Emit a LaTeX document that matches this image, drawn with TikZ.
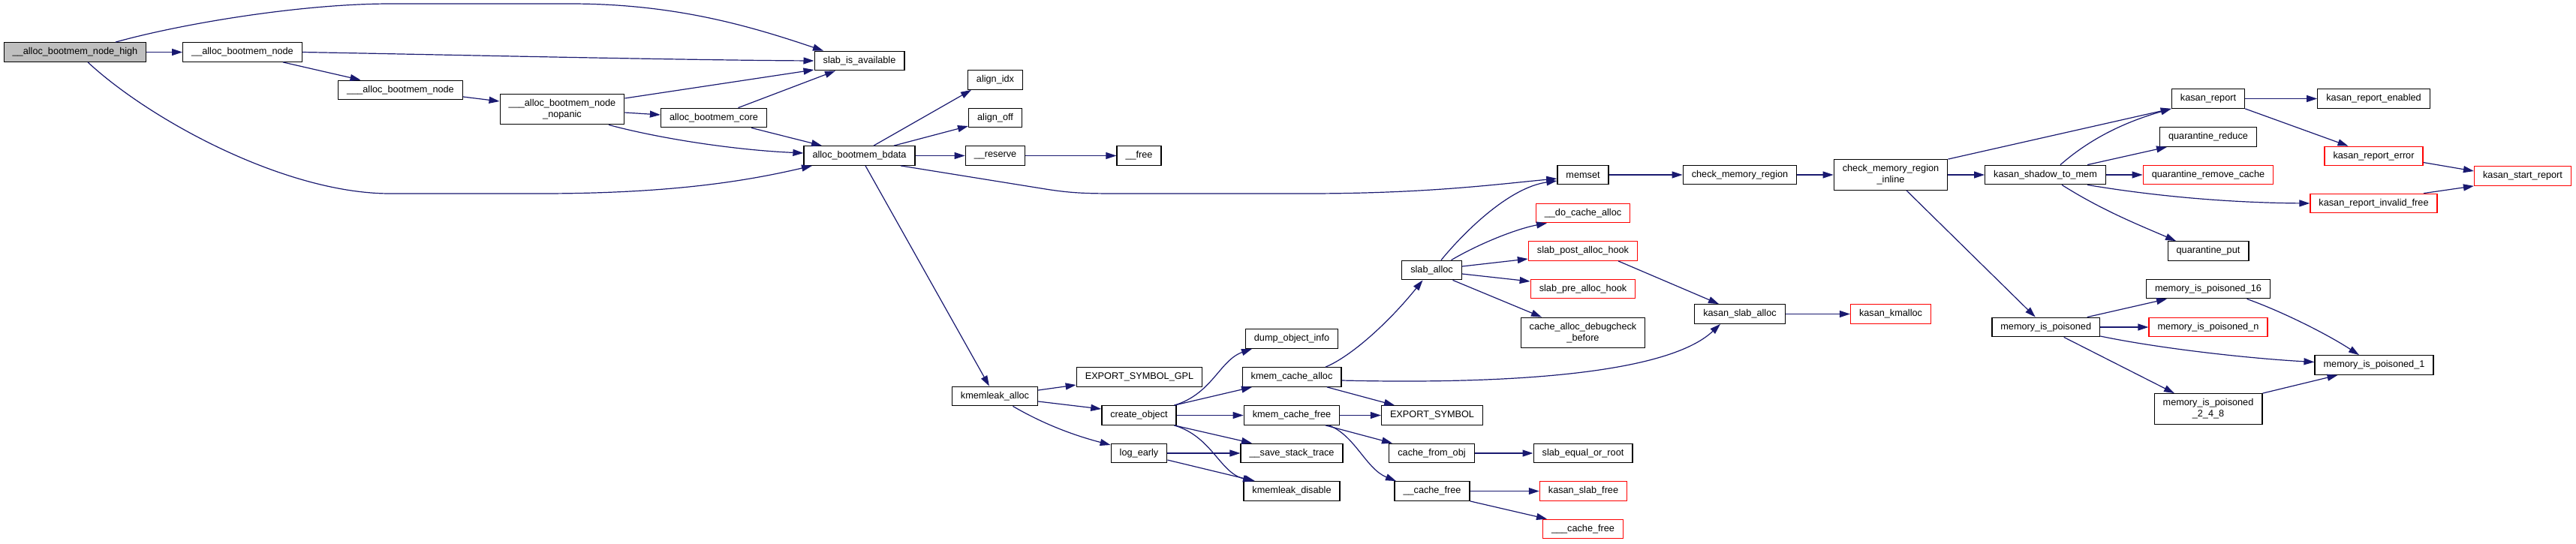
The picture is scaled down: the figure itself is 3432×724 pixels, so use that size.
\documentclass[tikz,border=0pt]{standalone}
\usepackage{fontspec}
\setmainfont{Liberation Sans}
\usetikzlibrary{arrows.meta}
\definecolor{edgeblue}{HTML}{191970}
\definecolor{rootgray}{HTML}{BFBFBF}

\begin{document}
\begin{tikzpicture}[x=1pt, y=-1pt,
    fn/.style={draw=black, line width=1.3pt, fill=white, minimum height=25.5pt,
      inner xsep=11.5pt, inner ysep=2pt, font=\fontsize{12.7}{15}\selectfont},
    root/.style={fn, fill=rootgray},
    trunc/.style={fn, draw=red},
    twoline/.style={align=center, minimum height=40.5pt},
    call/.style={draw=edgeblue, line width=1.2pt, -{Triangle[length=14pt,width=9pt]}}]
        \useasboundingbox (0,0) rectangle (3432,724);

        % Bootmem side
        \node[root] (high) at (100,69.5) {\_\_alloc\_bootmem\_node\_high};
        \node[fn] (n1) at (323,69.5) {\_\_alloc\_bootmem\_node};
        \node[fn] (n2) at (533.5,120) {\_\_\_alloc\_bootmem\_node};
        \node[fn, twoline] (nopanic) at (749,145.5) {\_\_\_alloc\_bootmem\_node\\\_nopanic};
        \node[fn] (core) at (951,157) {alloc\_bootmem\_core};
        \node[fn] (slab) at (1145,81) {slab\_is\_available};
        \node[fn] (bdata) at (1145,207.5) {alloc\_bootmem\_bdata};
        \node[fn] (alignidx) at (1326,106.5) {align\_idx};
        \node[fn] (alignoff) at (1326,157) {align\_off};
        \node[fn] (reserve) at (1326,207.5) {\_\_reserve};
        \node[fn] (kalloc) at (1325.5,528) {kmemleak\_alloc};
        \node[fn] (free) at (1517.5,207.5) {\_\_free};

        % Kmemleak side
        \node[fn] (esgpl) at (1518,502.5) {EXPORT\_SYMBOL\_GPL};
        \node[fn] (create) at (1517.5,553.5) {create\_object};
        \node[fn] (logearly) at (1517.5,604) {log\_early};
        \node[fn] (dump) at (1721,451.5) {dump\_object\_info};
        \node[fn] (kca) at (1721,502.5) {kmem\_cache\_alloc};
        \node[fn] (kcf) at (1721,553.5) {kmem\_cache\_free};
        \node[fn] (sst) at (1721,604) {\_\_save\_stack\_trace};
        \node[fn] (kdis) at (1721,654.5) {kmemleak\_disable};
        \node[fn] (slaballoc) at (1907.5,360) {slab\_alloc};
        \node[fn] (es) at (1908,553.5) {EXPORT\_SYMBOL};
        \node[fn] (cfo) at (1907.5,604) {cache\_from\_obj};
        \node[fn] (cfree) at (1908,654.5) {\_\_cache\_free};
        \node[fn] (memset) at (2109,233) {memset};
        \node[trunc] (docache) at (2109,284) {\_\_do\_cache\_alloc};
        \node[trunc] (post) at (2109,334.5) {slab\_post\_alloc\_hook};
        \node[trunc] (pre) at (2109,385) {slab\_pre\_alloc\_hook};
        \node[fn, twoline] (dbg) at (2109,443.5) {cache\_alloc\_debugcheck\\\_before};
        \node[fn] (seor) at (2109,604) {slab\_equal\_or\_root};
        \node[trunc] (ksfree) at (2109.5,654.5) {kasan\_slab\_free};
        \node[trunc] (ccfree) at (2109,705) {\_\_\_cache\_free};

        % Kasan side
        \node[fn] (cmr) at (2318,233) {check\_memory\_region};
        \node[fn] (ksalloc) at (2318,418.5) {kasan\_slab\_alloc};
        \node[fn, twoline] (cmri) at (2519,233) {check\_memory\_region\\\_inline};
        \node[trunc] (kmalloc) at (2519,418.5) {kasan\_kmalloc};
        \node[fn] (stm) at (2725,233) {kasan\_shadow\_to\_mem};
        \node[fn] (mip) at (2725.7,436) {memory\_is\_poisoned};
        \node[fn] (kreport) at (2942,131.5) {kasan\_report};
        \node[fn] (qreduce) at (2942,182.5) {quarantine\_reduce};
        \node[trunc] (qrc) at (2942,233) {quarantine\_remove\_cache};
        \node[fn] (qput) at (2942,334.5) {quarantine\_put};
        \node[fn] (mip16) at (2942,385) {memory\_is\_poisoned\_16};
        \node[trunc] (mipn) at (2942,436) {memory\_is\_poisoned\_n};
        \node[fn, twoline] (mip248) at (2942,545) {memory\_is\_poisoned\\\_2\_4\_8};
        \node[fn] (kre) at (3162.5,131.5) {kasan\_report\_enabled};
        \node[trunc] (krerr) at (3162.5,208) {kasan\_report\_error};
        \node[trunc] (kinv) at (3162.5,271) {kasan\_report\_invalid\_free};
        \node[fn] (mip1) at (3163,486.5) {memory\_is\_poisoned\_1};
        \node[trunc] (kstart) at (3361,234.5) {kasan\_start\_report};

        % Calls from the bootmem functions
        \draw[call] (high) -- (n1);
        \draw[call] ([xshift=54pt]high.north) .. controls (240,32) and (400,5) .. (520,5) -- (760,5)
            .. controls (900,5) and (1000,35) .. ([xshift=-48pt]slab.north);
        \draw[call] ([xshift=17pt]high.south) .. controls (200,160) and (380,258) .. (520,258) -- (720,258)
            .. controls (900,258) and (1000,240) .. ([xshift=-63pt]bdata.south);
        \draw[call] (n1.east) .. controls (600,73) and (900,80) .. (slab.west);
        \draw[call] ([xshift=54pt]n1.south) -- ([xshift=-53pt]n2.north);
        \draw[call] ([yshift=-9pt]n2.east) -- ([yshift=10.5pt]nopanic.west);
        \draw[call] ([yshift=14.5pt]nopanic.east) -- ([yshift=-12pt]slab.west);
        \draw[call] ([yshift=-4.5pt]nopanic.east) -- ([yshift=4pt]core.west);
        \draw[call] ([xshift=62pt]nopanic.south) .. controls (880,185) and (980,200) .. ([yshift=3.5pt]bdata.west);
        \draw[call] ([xshift=32.5pt]core.north) -- ([xshift=-32pt]slab.south);
        \draw[call] ([xshift=50pt]core.south) -- ([xshift=-50pt]bdata.north);
        \draw[call] ([xshift=19pt]bdata.north) -- ([xshift=-32pt]alignidx.south);
        \draw[call] ([xshift=46pt]bdata.north) -- ([yshift=-11pt]alignoff.west);
        \draw[call] (bdata) -- (reserve);
        \draw[call] ([xshift=55pt]bdata.south) -- (1390,251.5) .. controls (1430,258) and (1450,258) .. (1500,258)
            -- (1740,258) .. controls (1900,258) and (1990,246) .. ([yshift=-5pt]memset.west);
        \draw[call] ([xshift=8pt]bdata.south) -- ([xshift=-7.5pt]kalloc.north);
        \draw[call] (reserve) -- (free);

        % Calls from kmemleak
        \draw[call] ([yshift=8pt]kalloc.east) -- ([yshift=-10.5pt]esgpl.west);
        \draw[call] ([yshift=-7pt]kalloc.east) -- ([yshift=8.5pt]create.west);
        \draw[call] ([xshift=24pt]kalloc.south) .. controls (1390,565) and (1430,580) .. ([yshift=11pt]logearly.west);
        \draw[call] ([xshift=47pt]create.north) .. controls (1615,525) and (1625,480) .. ([xshift=-53pt]dump.south);
        \draw[call] ([xshift=47pt]create.north) -- ([xshift=-53pt]kca.south);
        \draw[call] (create) -- (kcf);
        \draw[call] ([xshift=47pt]create.south) -- ([xshift=-53pt]sst.north);
        \draw[call] ([xshift=47pt]create.south) .. controls (1615,582) and (1625,630) .. ([xshift=-51pt]kdis.north);
        \draw[call] (logearly) -- (sst);
        \draw[call] ([yshift=-9pt]logearly.east) -- ([xshift=-49pt]kdis.north);
        \draw[call] ([xshift=45pt]kca.north) .. controls (1800,475) and (1850,430) .. ([xshift=-12pt]slaballoc.south);
        \draw[call] ([xshift=47pt]kca.south) -- ([xshift=-50pt]es.north);
        \draw[call] ([yshift=-4.5pt]kca.east) .. controls (2000,512) and (2220,500) .. ([xshift=-26pt]ksalloc.south);
        \draw[call] (kcf) -- (es);
        \draw[call] ([xshift=45pt]kcf.south) -- ([xshift=-52.5pt]cfo.north);
        \draw[call] ([xshift=49.5pt]kcf.south) .. controls (1805,580) and (1820,625) .. ([xshift=-48pt]cfree.north);
        \draw[call] (cfo) -- (seor);
        \draw[call] (cfree) -- (ksfree);
        \draw[call] (cfree.south east) -- ([xshift=-48pt]ccfree.north);
        \draw[call] ([xshift=12.5pt]slaballoc.north) .. controls (1950,310) and (2010,250) .. ([yshift=-8pt]memset.west);
        \draw[call] ([xshift=26pt]slaballoc.north) .. controls (1970,325) and (2020,305) .. ([xshift=-48pt]docache.south);
        \draw[call] ([yshift=5pt]slaballoc.east) -- ([yshift=-10.5pt]post.west);
        \draw[call] ([yshift=-5pt]slaballoc.east) -- ([yshift=10pt]pre.west);
        \draw[call] ([xshift=28pt]slaballoc.south) -- ([xshift=-55pt]dbg.north);
        \draw[call] ([xshift=47pt]post.south) -- ([xshift=-28pt]ksalloc.north);
        \draw[call] (ksalloc) -- (kmalloc);

        % Calls from kasan
        \draw[call] (memset) -- (cmr);
        \draw[call] (cmr) -- (cmri);
        \draw[call] (cmri) -- (stm);
        \draw[call] (cmri.north east) -- (kreport.south west);
        \draw[call] ([xshift=21pt]cmri.south) -- ([xshift=-14pt]mip.north);
        \draw[call] ([xshift=20pt]stm.north) .. controls (2790,180) and (2840,160) .. (kreport.south west);
        \draw[call] ([xshift=56pt]stm.north) -- ([xshift=-55pt]qreduce.south);
        \draw[call] (stm) -- (qrc);
        \draw[call] ([xshift=56pt]stm.south) .. controls (2850,258) and (2950,270) .. (kinv.west);
        \draw[call] ([xshift=22pt]stm.south) .. controls (2800,280) and (2850,300) .. ([xshift=-43pt]qput.north);
        \draw[call] (kreport) -- (kre);
        \draw[call] (kreport.south east) -- ([xshift=-34pt]krerr.north);
        \draw[call] ([yshift=-8.5pt]krerr.east) -- ([yshift=6.5pt]kstart.west);
        \draw[call] ([xshift=66.5pt]kinv.north) -- (kstart.south west);
        \draw[call] ([xshift=55pt]mip.north) -- ([xshift=-55pt]mip16.south);
        \draw[call] (mip) -- (mipn);
        \draw[call] ([yshift=-12pt]mip.east) .. controls (2880,465) and (3000,478) .. ([yshift=4pt]mip1.west);
        \draw[call] ([xshift=24pt]mip.south) -- ([xshift=-45pt]mip248.north);
        \draw[call] ([xshift=51.5pt]mip16.south) .. controls (3040,415) and (3100,445) .. ([xshift=-20pt]mip1.north);
        \draw[call] (mip248.north east) -- ([xshift=-48.5pt]mip1.south);
\end{tikzpicture}
\end{document}
